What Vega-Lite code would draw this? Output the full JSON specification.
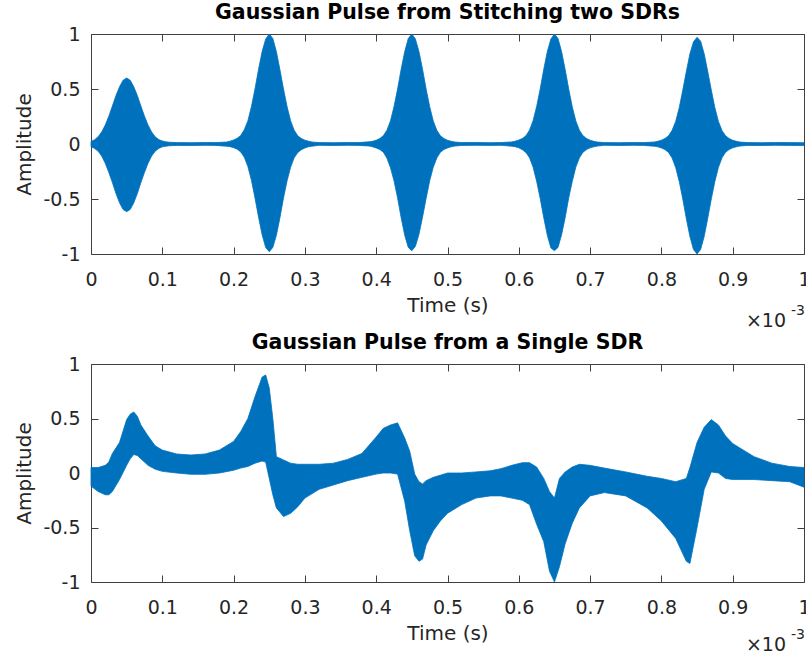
{
 "$schema": "https://vega.github.io/schema/vega-lite/v6.json",
 "padding": {"left": 14, "top": 2, "right": 0, "bottom": 0},
 "spacing": 0,
 "datasets": {
  "stitched": [
   {"t":0,"hi":0.022,"lo":-0.024},{"t":0.005,"hi":0.038,"lo":-0.04},{"t":0.01,"hi":0.066,"lo":-0.065},{"t":0.015,"hi":0.11,"lo":-0.11},{"t":0.02,"hi":0.172,"lo":-0.175},{"t":0.025,"hi":0.253,"lo":-0.258},{"t":0.03,"hi":0.345,"lo":-0.35},{"t":0.035,"hi":0.44,"lo":-0.45},{"t":0.04,"hi":0.52,"lo":-0.535},{"t":0.045,"hi":0.58,"lo":-0.595},{"t":0.05,"hi":0.6,"lo":-0.615},{"t":0.055,"hi":0.58,"lo":-0.595},{"t":0.06,"hi":0.52,"lo":-0.535},{"t":0.065,"hi":0.44,"lo":-0.45},{"t":0.07,"hi":0.345,"lo":-0.35},{"t":0.075,"hi":0.253,"lo":-0.258},{"t":0.08,"hi":0.172,"lo":-0.175},{"t":0.085,"hi":0.11,"lo":-0.11},{"t":0.09,"hi":0.066,"lo":-0.066},{"t":0.095,"hi":0.04,"lo":-0.04},{"t":0.1,"hi":0.028,"lo":-0.026},{"t":0.105,"hi":0.02,"lo":-0.02},{"t":0.11,"hi":0.016,"lo":-0.016},{"t":0.12,"hi":0.013,"lo":-0.013},{"t":0.14,"hi":0.012,"lo":-0.014},{"t":0.16,"hi":0.014,"lo":-0.012},{"t":0.175,"hi":0.013,"lo":-0.013},
   {"t":0.19,"hi":0.018,"lo":-0.02},{"t":0.195,"hi":0.026,"lo":-0.024},{"t":0.2,"hi":0.036,"lo":-0.033},{"t":0.205,"hi":0.052,"lo":-0.047},{"t":0.21,"hi":0.078,"lo":-0.072},{"t":0.215,"hi":0.13,"lo":-0.12},{"t":0.22,"hi":0.21,"lo":-0.205},{"t":0.225,"hi":0.34,"lo":-0.33},{"t":0.23,"hi":0.5,"lo":-0.49},{"t":0.235,"hi":0.68,"lo":-0.665},{"t":0.24,"hi":0.84,"lo":-0.825},{"t":0.245,"hi":0.955,"lo":-0.94},{"t":0.25,"hi":1.0,"lo":-0.98},{"t":0.255,"hi":0.96,"lo":-0.94},{"t":0.26,"hi":0.84,"lo":-0.83},{"t":0.265,"hi":0.675,"lo":-0.67},{"t":0.27,"hi":0.5,"lo":-0.49},{"t":0.275,"hi":0.34,"lo":-0.335},{"t":0.28,"hi":0.21,"lo":-0.21},{"t":0.285,"hi":0.125,"lo":-0.125},{"t":0.29,"hi":0.075,"lo":-0.078},{"t":0.295,"hi":0.05,"lo":-0.052},{"t":0.3,"hi":0.035,"lo":-0.036},{"t":0.305,"hi":0.026,"lo":-0.025},{"t":0.31,"hi":0.018,"lo":-0.02},{"t":0.32,"hi":0.013,"lo":-0.012},{"t":0.34,"hi":0.012,"lo":-0.014},{"t":0.36,"hi":0.014,"lo":-0.012},{"t":0.375,"hi":0.013,"lo":-0.013},
   {"t":0.39,"hi":0.02,"lo":-0.018},{"t":0.395,"hi":0.025,"lo":-0.026},{"t":0.4,"hi":0.035,"lo":-0.036},{"t":0.405,"hi":0.05,"lo":-0.05},{"t":0.41,"hi":0.076,"lo":-0.074},{"t":0.415,"hi":0.125,"lo":-0.128},{"t":0.42,"hi":0.21,"lo":-0.215},{"t":0.425,"hi":0.34,"lo":-0.335},{"t":0.43,"hi":0.5,"lo":-0.49},{"t":0.435,"hi":0.68,"lo":-0.67},{"t":0.44,"hi":0.84,"lo":-0.83},{"t":0.445,"hi":0.96,"lo":-0.94},{"t":0.45,"hi":1.0,"lo":-0.97},{"t":0.455,"hi":0.955,"lo":-0.93},{"t":0.46,"hi":0.84,"lo":-0.82},{"t":0.465,"hi":0.68,"lo":-0.665},{"t":0.47,"hi":0.5,"lo":-0.495},{"t":0.475,"hi":0.34,"lo":-0.335},{"t":0.48,"hi":0.21,"lo":-0.212},{"t":0.485,"hi":0.125,"lo":-0.127},{"t":0.49,"hi":0.075,"lo":-0.076},{"t":0.495,"hi":0.05,"lo":-0.05},{"t":0.5,"hi":0.034,"lo":-0.036},{"t":0.505,"hi":0.025,"lo":-0.026},{"t":0.51,"hi":0.018,"lo":-0.019},{"t":0.52,"hi":0.013,"lo":-0.013},{"t":0.54,"hi":0.014,"lo":-0.012},{"t":0.56,"hi":0.012,"lo":-0.013},{"t":0.575,"hi":0.013,"lo":-0.012},
   {"t":0.59,"hi":0.019,"lo":-0.02},{"t":0.595,"hi":0.026,"lo":-0.025},{"t":0.6,"hi":0.036,"lo":-0.034},{"t":0.605,"hi":0.05,"lo":-0.052},{"t":0.61,"hi":0.075,"lo":-0.077},{"t":0.615,"hi":0.126,"lo":-0.124},{"t":0.62,"hi":0.212,"lo":-0.21},{"t":0.625,"hi":0.34,"lo":-0.338},{"t":0.63,"hi":0.5,"lo":-0.495},{"t":0.635,"hi":0.68,"lo":-0.67},{"t":0.64,"hi":0.84,"lo":-0.83},{"t":0.645,"hi":0.955,"lo":-0.945},{"t":0.65,"hi":1.0,"lo":-0.97},{"t":0.655,"hi":0.96,"lo":-0.94},{"t":0.66,"hi":0.84,"lo":-0.825},{"t":0.665,"hi":0.678,"lo":-0.67},{"t":0.67,"hi":0.5,"lo":-0.49},{"t":0.675,"hi":0.338,"lo":-0.34},{"t":0.68,"hi":0.21,"lo":-0.21},{"t":0.685,"hi":0.125,"lo":-0.126},{"t":0.69,"hi":0.076,"lo":-0.075},{"t":0.695,"hi":0.05,"lo":-0.051},{"t":0.7,"hi":0.035,"lo":-0.035},{"t":0.705,"hi":0.025,"lo":-0.026},{"t":0.71,"hi":0.018,"lo":-0.019},{"t":0.72,"hi":0.013,"lo":-0.012},{"t":0.74,"hi":0.012,"lo":-0.014},{"t":0.76,"hi":0.014,"lo":-0.012},{"t":0.775,"hi":0.013,"lo":-0.013},
   {"t":0.79,"hi":0.018,"lo":-0.02},{"t":0.795,"hi":0.025,"lo":-0.026},{"t":0.8,"hi":0.035,"lo":-0.036},{"t":0.805,"hi":0.05,"lo":-0.051},{"t":0.81,"hi":0.074,"lo":-0.077},{"t":0.815,"hi":0.124,"lo":-0.127},{"t":0.82,"hi":0.205,"lo":-0.213},{"t":0.825,"hi":0.33,"lo":-0.34},{"t":0.83,"hi":0.49,"lo":-0.5},{"t":0.835,"hi":0.66,"lo":-0.68},{"t":0.84,"hi":0.82,"lo":-0.84},{"t":0.845,"hi":0.93,"lo":-0.96},{"t":0.85,"hi":0.97,"lo":-1.0},{"t":0.855,"hi":0.935,"lo":-0.96},{"t":0.86,"hi":0.82,"lo":-0.84},{"t":0.865,"hi":0.66,"lo":-0.675},{"t":0.87,"hi":0.49,"lo":-0.5},{"t":0.875,"hi":0.33,"lo":-0.34},{"t":0.88,"hi":0.205,"lo":-0.212},{"t":0.885,"hi":0.122,"lo":-0.126},{"t":0.89,"hi":0.074,"lo":-0.076},{"t":0.895,"hi":0.05,"lo":-0.05},{"t":0.9,"hi":0.034,"lo":-0.035},{"t":0.905,"hi":0.025,"lo":-0.026},{"t":0.91,"hi":0.018,"lo":-0.019},{"t":0.92,"hi":0.013,"lo":-0.013},{"t":0.94,"hi":0.012,"lo":-0.014},{"t":0.96,"hi":0.014,"lo":-0.012},{"t":0.98,"hi":0.013,"lo":-0.013},{"t":1.0,"hi":0.012,"lo":-0.014}
  ],
  "single": [
   {"t":0,"hi":0.05,"lo":-0.12},{"t":0.01,"hi":0.05,"lo":-0.17},{"t":0.02,"hi":0.07,"lo":-0.2},{"t":0.025,"hi":0.1,"lo":-0.2},{"t":0.03,"hi":0.18,"lo":-0.17},{"t":0.04,"hi":0.28,"lo":-0.06},{"t":0.05,"hi":0.49,"lo":0.07},{"t":0.055,"hi":0.54,"lo":0.13},{"t":0.06,"hi":0.56,"lo":0.17},{"t":0.065,"hi":0.52,"lo":0.16},{"t":0.07,"hi":0.44,"lo":0.13},{"t":0.08,"hi":0.34,"lo":0.07},{"t":0.09,"hi":0.25,"lo":0.035},{"t":0.1,"hi":0.21,"lo":0.015},{"t":0.12,"hi":0.175,"lo":0.0},{"t":0.14,"hi":0.165,"lo":-0.012},{"t":0.16,"hi":0.175,"lo":-0.012},{"t":0.18,"hi":0.21,"lo":0.0},{"t":0.2,"hi":0.29,"lo":0.025},{"t":0.21,"hi":0.38,"lo":0.045},{"t":0.22,"hi":0.5,"lo":0.06},{"t":0.23,"hi":0.7,"lo":0.09},{"t":0.24,"hi":0.88,"lo":0.11},{"t":0.245,"hi":0.9,"lo":0.1},{"t":0.25,"hi":0.78,"lo":-0.05},{"t":0.255,"hi":0.5,"lo":-0.2},{"t":0.26,"hi":0.15,"lo":-0.32},{"t":0.27,"hi":0.12,"lo":-0.4},{"t":0.28,"hi":0.09,"lo":-0.37},{"t":0.29,"hi":0.08,"lo":-0.31},{"t":0.3,"hi":0.08,"lo":-0.23},{"t":0.32,"hi":0.08,"lo":-0.15},{"t":0.34,"hi":0.09,"lo":-0.11},{"t":0.36,"hi":0.125,"lo":-0.07},{"t":0.38,"hi":0.18,"lo":-0.04},{"t":0.4,"hi":0.33,"lo":-0.01},{"t":0.41,"hi":0.41,"lo":0.0},{"t":0.42,"hi":0.44,"lo":0.0},{"t":0.43,"hi":0.46,"lo":-0.01},{"t":0.44,"hi":0.32,"lo":-0.26},{"t":0.447,"hi":0.2,"lo":-0.53},{"t":0.454,"hi":-0.01,"lo":-0.76},{"t":0.46,"hi":-0.08,"lo":-0.81},{"t":0.465,"hi":-0.1,"lo":-0.79},{"t":0.47,"hi":-0.07,"lo":-0.66},{"t":0.48,"hi":-0.04,"lo":-0.53},{"t":0.49,"hi":-0.02,"lo":-0.44},{"t":0.5,"hi":0.0,"lo":-0.37},{"t":0.52,"hi":0.0,"lo":-0.29},{"t":0.54,"hi":0.01,"lo":-0.23},{"t":0.56,"hi":0.02,"lo":-0.21},{"t":0.575,"hi":0.04,"lo":-0.21},{"t":0.59,"hi":0.07,"lo":-0.23},{"t":0.605,"hi":0.095,"lo":-0.25},{"t":0.615,"hi":0.095,"lo":-0.29},{"t":0.625,"hi":0.055,"lo":-0.47},{"t":0.635,"hi":-0.05,"lo":-0.63},{"t":0.643,"hi":-0.17,"lo":-0.9},{"t":0.65,"hi":-0.23,"lo":-1.0},{"t":0.657,"hi":-0.05,"lo":-0.86},{"t":0.665,"hi":0.01,"lo":-0.65},{"t":0.675,"hi":0.055,"lo":-0.46},{"t":0.685,"hi":0.08,"lo":-0.32},{"t":0.7,"hi":0.07,"lo":-0.21},{"t":0.72,"hi":0.045,"lo":-0.18},{"t":0.75,"hi":0.01,"lo":-0.21},{"t":0.78,"hi":-0.03,"lo":-0.32},{"t":0.8,"hi":-0.05,"lo":-0.44},{"t":0.82,"hi":-0.08,"lo":-0.6},{"t":0.835,"hi":-0.05,"lo":-0.81},{"t":0.84,"hi":0.05,"lo":-0.83},{"t":0.85,"hi":0.28,"lo":-0.5},{"t":0.86,"hi":0.42,"lo":-0.15},{"t":0.87,"hi":0.49,"lo":0.01},{"t":0.88,"hi":0.44,"lo":0.0},{"t":0.89,"hi":0.34,"lo":-0.05},{"t":0.9,"hi":0.27,"lo":-0.06},{"t":0.91,"hi":0.23,"lo":-0.06},{"t":0.93,"hi":0.15,"lo":-0.06},{"t":0.955,"hi":0.09,"lo":-0.07},{"t":0.98,"hi":0.06,"lo":-0.08},{"t":1.0,"hi":0.05,"lo":-0.13}
  ],
  "mult": [{"t":1,"amp":-1,"base":"×10","exp":"-3"}]
 },
 "vconcat": [
  {
   "title": "Gaussian Pulse from Stitching two SDRs",
   "width": 713, "height": 220,
   "layer": [
    {"data": {"name": "stitched"},
     "mark": {"type": "area", "color": "#0072BD", "stroke": "#0072BD", "strokeWidth": 0.8},
     "encoding": {
      "x": {"field": "t", "type": "quantitative", "scale": {"domain": [0, 1], "nice": false, "zero": false},
            "axis": {"orient": "bottom", "title": "Time (s)", "values": [0,0.1,0.2,0.3,0.4,0.5,0.6,0.7,0.8,0.9,1], "format": ".1~f"}},
      "y": {"field": "hi", "type": "quantitative", "scale": {"domain": [-1, 1], "nice": false},
            "axis": {"orient": "left", "title": "Amplitude", "values": [-1,-0.5,0,0.5,1], "labelExpr": "replace(format(datum.value, '~g'), '−', '-')"}},
      "y2": {"field": "lo"}
     }},
    {"data": {"name": "mult"},
     "mark": {"type": "text", "align": "right", "baseline": "alphabetic", "dx": -18, "dy": 73, "fontSize": 19, "color": "#262626"},
     "encoding": {
      "x": {"field": "t", "type": "quantitative", "scale": {"domain": [0, 1], "nice": false, "zero": false},
            "axis": {"orient": "top", "labels": false, "title": null, "values": [0,0.1,0.2,0.3,0.4,0.5,0.6,0.7,0.8,0.9,1]}},
      "y": {"field": "amp", "type": "quantitative", "scale": {"domain": [-1, 1], "nice": false},
            "axis": {"orient": "right", "labels": false, "title": null, "values": [-1,-0.5,0,0.5,1]}},
      "text": {"field": "base"}
     }},
    {"data": {"name": "mult"},
     "mark": {"type": "text", "align": "right", "baseline": "alphabetic", "dx": 1, "dy": 61, "fontSize": 14, "color": "#262626"},
     "encoding": {
      "x": {"field": "t", "type": "quantitative", "axis": null},
      "y": {"field": "amp", "type": "quantitative", "axis": null},
      "text": {"field": "exp"}
     }}
   ],
   "resolve": {"axis": {"x": "independent", "y": "independent"}}
  },
  {
   "title": "Gaussian Pulse from a Single SDR",
   "width": 713, "height": 218,
   "layer": [
    {"data": {"name": "single"},
     "mark": {"type": "area", "color": "#0072BD", "stroke": "#0072BD", "strokeWidth": 0.8},
     "encoding": {
      "x": {"field": "t", "type": "quantitative", "scale": {"domain": [0, 1], "nice": false, "zero": false},
            "axis": {"orient": "bottom", "title": "Time (s)", "values": [0,0.1,0.2,0.3,0.4,0.5,0.6,0.7,0.8,0.9,1], "format": ".1~f"}},
      "y": {"field": "hi", "type": "quantitative", "scale": {"domain": [-1, 1], "nice": false},
            "axis": {"orient": "left", "title": "Amplitude", "values": [-1,-0.5,0,0.5,1], "labelExpr": "replace(format(datum.value, '~g'), '−', '-')"}},
      "y2": {"field": "lo"}
     }},
    {"data": {"name": "mult"},
     "mark": {"type": "text", "align": "right", "baseline": "alphabetic", "dx": -18, "dy": 69, "fontSize": 19, "color": "#262626"},
     "encoding": {
      "x": {"field": "t", "type": "quantitative", "scale": {"domain": [0, 1], "nice": false, "zero": false},
            "axis": {"orient": "top", "labels": false, "title": null, "values": [0,0.1,0.2,0.3,0.4,0.5,0.6,0.7,0.8,0.9,1]}},
      "y": {"field": "amp", "type": "quantitative", "scale": {"domain": [-1, 1], "nice": false},
            "axis": {"orient": "right", "labels": false, "title": null, "values": [-1,-0.5,0,0.5,1]}},
      "text": {"field": "base"}
     }},
    {"data": {"name": "mult"},
     "mark": {"type": "text", "align": "right", "baseline": "alphabetic", "dx": 1, "dy": 57, "fontSize": 14, "color": "#262626"},
     "encoding": {
      "x": {"field": "t", "type": "quantitative", "axis": null},
      "y": {"field": "amp", "type": "quantitative", "axis": null},
      "text": {"field": "exp"}
     }}
   ],
   "resolve": {"axis": {"x": "independent", "y": "independent"}}
  }
 ],
 "config": {
  "font": "DejaVu Sans",
  "view": {"stroke": "#404040", "strokeWidth": 1},
  "axis": {"domain": false, "grid": false, "ticks": true, "tickSize": 7, "offset": -7, "tickColor": "#404040", "tickWidth": 1, "zindex": 1, "labelFlush": false,
           "labelColor": "#262626", "labelFont": "DejaVu Sans", "labelFontSize": 19,
           "titleFont": "DejaVu Sans", "titleFontSize": 20, "titleFontWeight": "normal", "titleColor": "#262626"},
  "axisX": {"labelPadding": 16, "titlePadding": 6},
  "axisY": {"labelPadding": 11, "titlePadding": 8},
  "title": {"font": "DejaVu Sans", "fontSize": 20.5, "fontWeight": "bold", "color": "#000000", "anchor": "middle", "frame": "group", "offset": 2}
 }
}
